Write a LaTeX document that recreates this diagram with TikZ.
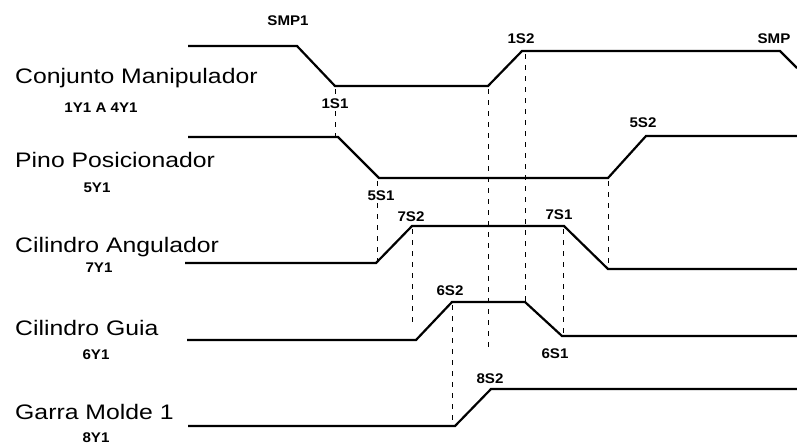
\documentclass[tikz,border=0pt]{standalone}
\usepackage{fontspec}
\setmainfont{Liberation Sans}
\newfontfamily\namefont[FakeStretch=1.18]{Liberation Sans}
\newfontfamily\tagfont[FakeStretch=1.08]{Liberation Sans}

\begin{document}
\begin{tikzpicture}[x=1pt,y=-1pt,
        wave/.style={line width=2.2pt, line join=miter},
        guide/.style={line width=0.9pt, dash pattern=on 5pt off 6pt},
        rowname/.style={anchor=base west, inner sep=0pt,
                        font=\namefont\fontsize{21}{25}\selectfont},
        coil/.style={anchor=base, inner sep=0pt,
                     font=\tagfont\bfseries\fontsize{14}{16}\selectfont},
        sensor/.style={coil, inner sep=1pt, fill=white}]
        \useasboundingbox[fill=white] (0,0) rectangle (797,445);
        % row names
        \node[rowname] (manip) at (15,83)  {Conjunto Manipulador};
        \node[coil]    (manipY) at (101,112) {1Y1 A 4Y1};
        \node[rowname] (pino)  at (15,167) {Pino Posicionador};
        \node[coil]    (pinoY) at (97,192)  {5Y1};
        \node[rowname] (angul) at (15,252) {Cilindro Angulador};
        \node[coil]    (angulY) at (99,272) {7Y1};
        \node[rowname] (guia)  at (15,335) {Cilindro Guia};
        \node[coil]    (guiaY) at (96,359)  {6Y1};
        \node[rowname] (garra) at (15,419) {Garra Molde 1};
        \node[coil]    (garraY) at (96,442) {8Y1};
        % waveforms
        \draw[wave] (188,46) -- (297,46) -- (335,86) coordinate (s11)
              -- (488,86) coordinate (m1) -- (522,51) coordinate (s12)
              -- (780,51) -- (797,68);
        \draw[wave] (188,137) -- (338,137) coordinate (p1) -- (379,178) coordinate (s51)
              -- (608,178) coordinate (s51b) -- (646,136) coordinate (s52) -- (797,136);
        \draw[wave] (185,263) -- (376,263) coordinate (a1) -- (412,226) coordinate (s72)
              -- (564,226) coordinate (s71) -- (608,269) coordinate (a2) -- (797,269);
        \draw[wave] (187,340) -- (416,340) coordinate (g1) -- (452,302) coordinate (s62)
              -- (525,302) coordinate (g2) -- (562,336) coordinate (s61) -- (797,336);
        \draw[wave] (188,426) -- (455,426) coordinate (c1) -- (491,389) coordinate (s82)
              -- (797,389);
        % guide lines
        \draw[guide] (335,89) -- (p1 -| s11);
        \draw[guide] (488,89) -- (488,352);
        \draw[guide] (525,54) -- (g2 -| 525,0);
        \draw[guide] (377,181) -- (a1 -| 377,0);
        \draw[guide] (412,229) -- (412,322);
        \draw[guide] (563,229) -- (s61 -| 563,0);
        \draw[guide] (608,181) -- (a2);
        \draw[guide] (452,305) -- (c1 -| 452,0);
        % sensor labels
        \node[coil]   (smp1) at (288,25)  {SMP1};
        \node[sensor] (l11)  at (335,108) {1S1};
        \node[coil]   (l12)  at (521,43)  {1S2};
        \node[coil]   (smp)  at (774,43)  {SMP};
        \node[coil]   (l52)  at (643,127) {5S2};
        \node[sensor] (l51)  at (381,200) {5S1};
        \node[coil]   (l72)  at (411,221) {7S2};
        \node[coil]   (l71)  at (559,219) {7S1};
        \node[coil]   (l62)  at (450,295) {6S2};
        \node[coil]   (l61)  at (555,358) {6S1};
        \node[coil]   (l82)  at (490,383) {8S2};
\end{tikzpicture}
\end{document}
